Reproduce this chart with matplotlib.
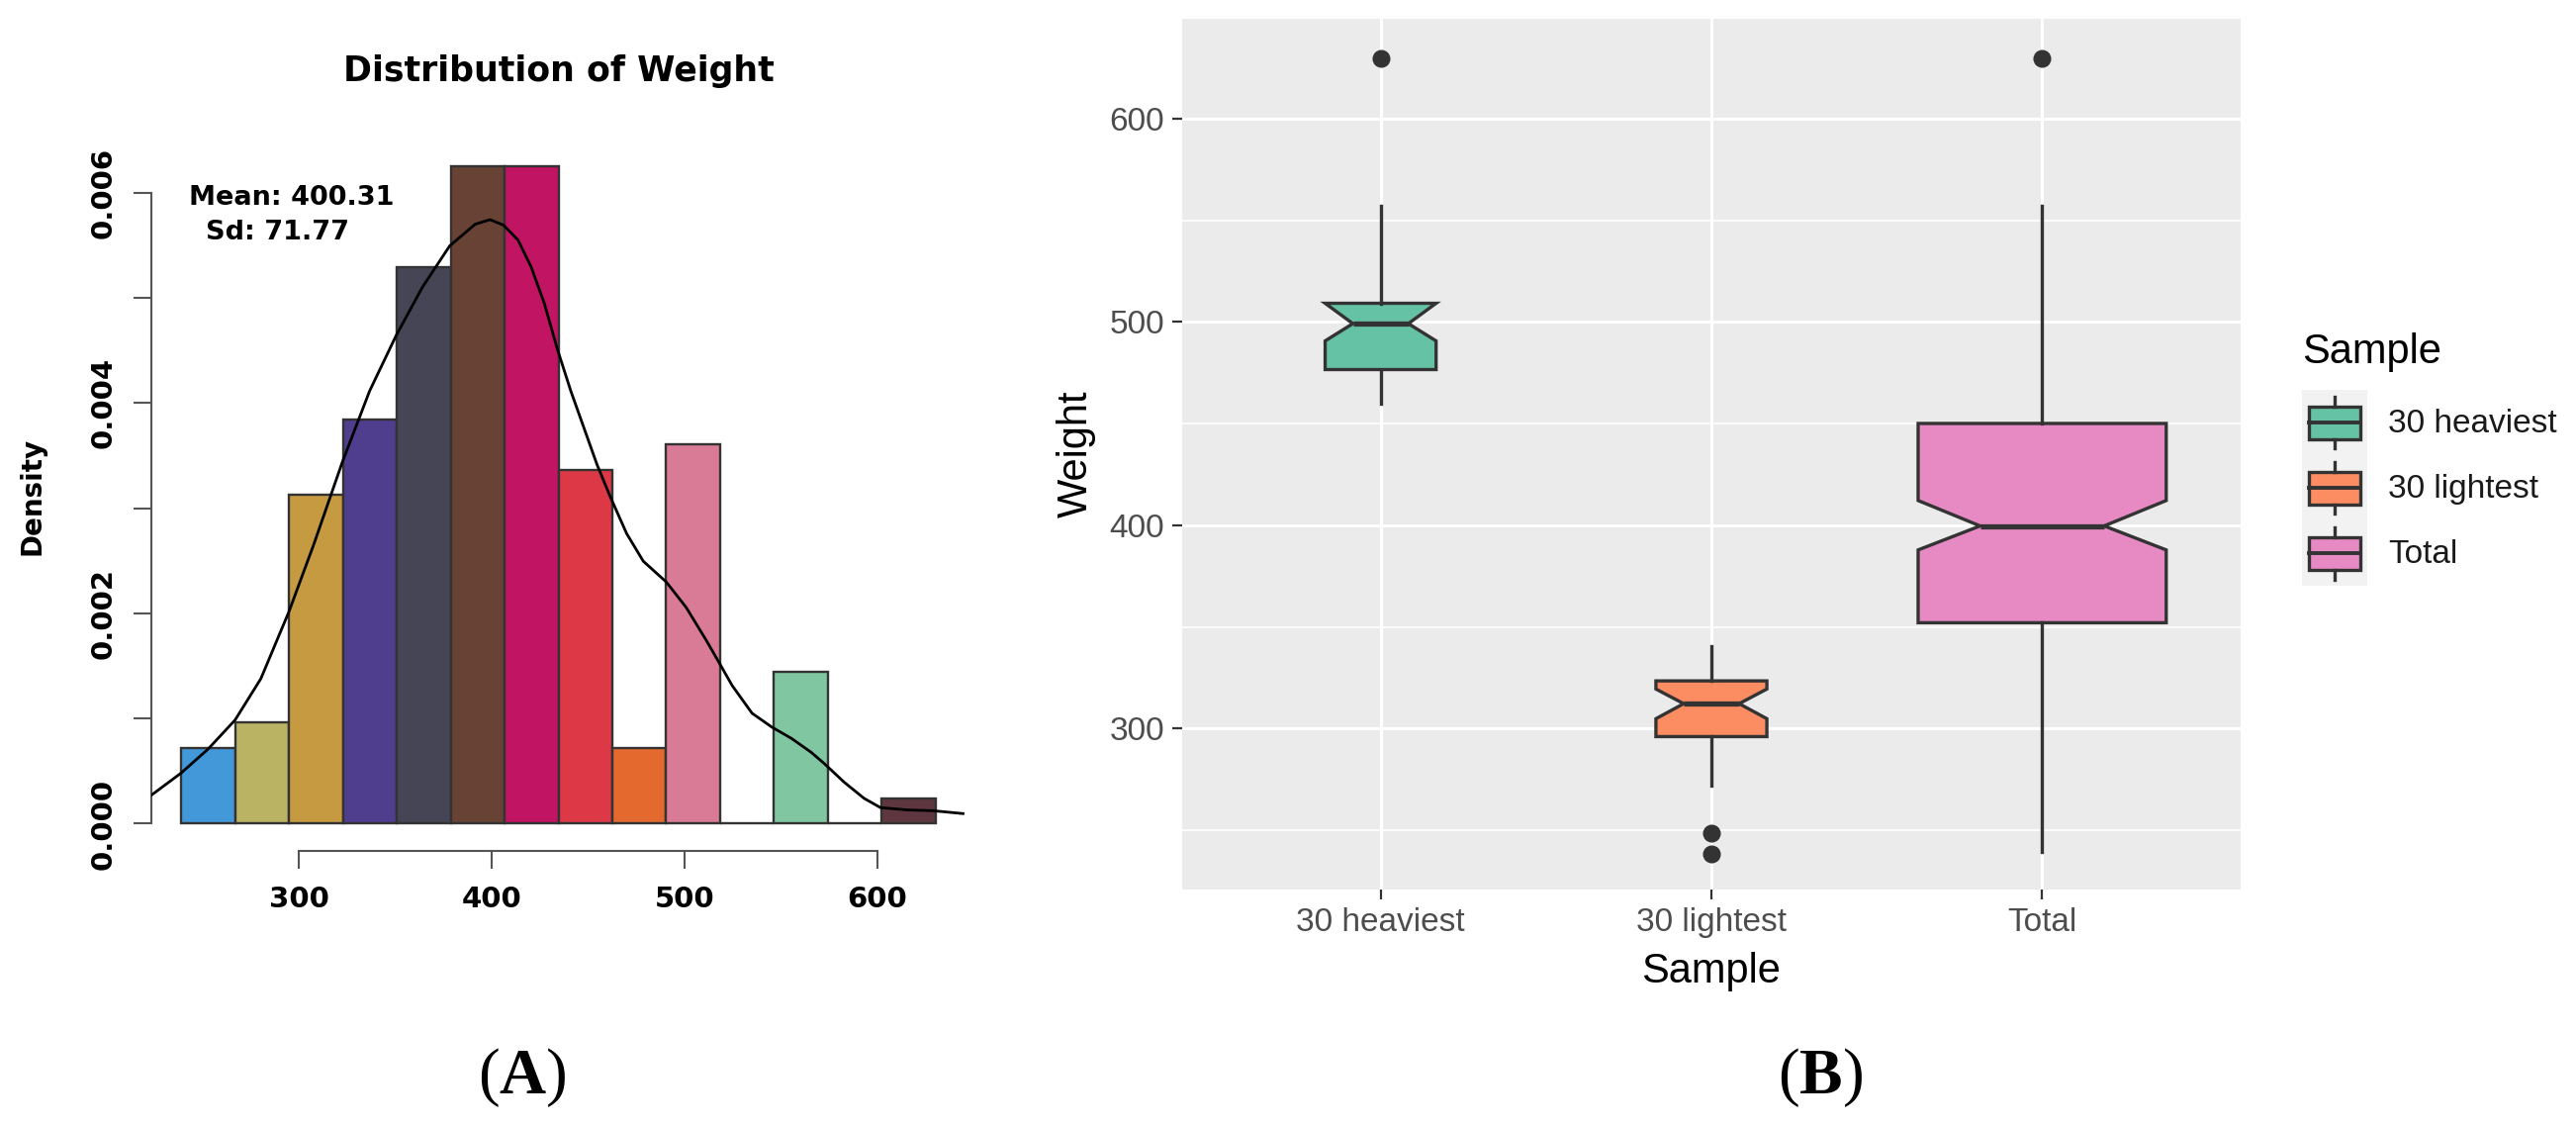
import matplotlib.pyplot as plt
import numpy as np
from matplotlib.legend_handler import HandlerBase
from matplotlib.patches import Patch, Rectangle
from matplotlib.lines import Line2D

plt.rcParams['font.family'] = ['DejaVu Sans']
plt.rcParams['mathtext.fontset'] = 'custom'
plt.rcParams['mathtext.rm'] = 'Liberation Serif'
plt.rcParams['mathtext.bf'] = 'Liberation Serif:bold'

# ---- panel A data: histogram of weight ----
bin_edges = [239.0, 266.93, 294.86, 322.79, 350.72, 378.65, 406.58, 434.51,
             462.44, 490.37, 518.3, 546.23, 574.16, 602.09, 630.02]
bin_counts = [3, 4, 13, 16, 22, 26, 26, 14, 3, 15, 0, 6, 0, 1]
bar_colors = ['#4398DA', '#BAB364', '#C59A40', '#4F3D8D', '#454556', '#684234',
              '#C11462', '#DD3845', '#E3692F', '#D97A96', '#FFFFFF', '#80C7A1',
              '#FFFFFF', '#5E3640']

# density curve
kde_x = [223.4, 238.8, 252.8, 266.8, 280.2, 288.7, 294.7, 307.5, 322.4, 336.6,
         350.3, 363.9, 378.1, 391.3, 399.0, 406.0, 413.5, 420.3, 427.2, 434.0,
         440.9, 447.7, 454.5, 461.4, 469.9, 478.5, 490.4, 500.7, 510.9, 517.8,
         524.6, 534.9, 545.1, 555.4, 565.6, 572.5, 582.7, 593.0, 601.5, 615.2,
         628.9, 644.3]
kde_y = [0.271, 0.481, 0.709, 0.985, 1.379, 1.751, 2.013, 2.648, 3.435, 4.114,
         4.639, 5.098, 5.492, 5.698, 5.742, 5.690, 5.549, 5.295, 4.945, 4.508,
         4.114, 3.764, 3.414, 3.107, 2.757, 2.495, 2.298, 2.057, 1.751, 1.532,
         1.313, 1.050, 0.919, 0.810, 0.678, 0.569, 0.394, 0.241, 0.153, 0.131,
         0.123, 0.096]
mean_txt = 'Mean: 400.31'
sd_txt = 'Sd: 71.77'

# ---- panel B data: notched boxplots ----
samples = ['30 heaviest', '30 lightest', 'Total']
box_q1 = [476.6, 296.1, 352.1]
box_med = [499.2, 312.3, 399.7]
box_q3 = [509.2, 323.5, 450.1]
whisk_lo = [459.9, 272.0, 239.2]
whisk_hi = [557.0, 340.6, 557.0]
notch_lo = [490.7, 304.9, 387.9]
notch_hi = [509.2, 319.5, 412.2]
outliers = [[629.6], [248.5, 238.5], [629.6]]
box_n = [30, 30, 150]
box_colors = ['#66C2A5', '#FC8D62', '#E78AC3']

W, H = 2604, 1138
fig = plt.figure(figsize=(W / 100, H / 100), dpi=100)


def fx(px):
    return px / W


def fy(py):
    return 1 - py / H


# ================= panel A =================
axA = fig.add_axes([fx(153), fy(860), fx(976) - fx(153), fy(140) - fy(860)])
edges = np.array(bin_edges)
counts = np.array(bin_counts)
dens = counts / (counts.sum() * np.diff(edges))
axA.bar(edges[:-1], dens, width=np.diff(edges), align='edge', color=bar_colors,
        edgecolor='#333333', linewidth=1.7, zorder=2)
axA.plot(kde_x, np.array(kde_y) * 1e-3, color='black', lw=2.0, zorder=3,
         solid_joinstyle='round')
axA.set_xlim(223.4, 645.6)
axA.set_ylim(-0.000259, 0.006513)
for s in ['top', 'right']:
    axA.spines[s].set_visible(False)
for s in ['left', 'bottom']:
    axA.spines[s].set_color('#555555')
    axA.spines[s].set_linewidth(1.5)
axA.spines['left'].set_bounds(0, 0.006)
axA.spines['bottom'].set_bounds(300, 600)
yt = [0, 0.001, 0.002, 0.003, 0.004, 0.005, 0.006]
axA.set_yticks(yt)
axA.set_yticklabels(['0.000', '', '0.002', '', '0.004', '', '0.006'])
axA.set_xticks([300, 400, 500, 600])
axA.set_xticklabels(['300', '400', '500', '600'])
axA.tick_params(axis='both', length=13, width=1.5, color='#555555',
                labelsize=21, pad=12)
axA.tick_params(axis='y', labelrotation=90)
for lab in axA.get_yticklabels():
    lab.set_va('center')
    lab.set_fontweight('bold')
for lab in axA.get_xticklabels():
    lab.set_fontweight('bold')
axA.text(295.9, 0.00595, mean_txt, ha='center', va='center',
         fontsize=19.5, fontweight='bold')
axA.text(288.7, 0.00562, sd_txt, ha='center', va='center',
         fontsize=19.5, fontweight='bold')
fig.text(fx(564.5), fy(72), 'Distribution of Weight', ha='center', va='center',
         fontsize=25, fontweight='bold')
fig.text(fx(32.5), fy(501), 'Density', rotation=90, ha='center', va='center',
         fontsize=20, fontweight='bold')

# ================= panel B =================
sans = ['Liberation Sans', 'DejaVu Sans']
axB = fig.add_axes([fx(1195), fy(899), fx(2265) - fx(1195), fy(19) - fy(899)])
axB.set_facecolor('#EBEBEB')
for s in axB.spines.values():
    s.set_visible(False)
positions = np.arange(1, len(samples) + 1)
stats = []
for i, name in enumerate(samples):
    stats.append(dict(label=name, med=box_med[i], q1=box_q1[i], q3=box_q3[i],
                      whislo=whisk_lo[i], whishi=whisk_hi[i], fliers=outliers[i],
                      cilo=notch_lo[i], cihi=notch_hi[i]))
widths = [0.75 * np.sqrt(n / max(box_n)) for n in box_n]
edge = '#333333'
bp = axB.bxp(stats, positions=positions, widths=widths, shownotches=True,
             patch_artist=True, showcaps=False,
             boxprops=dict(edgecolor=edge, linewidth=2.4),
             medianprops=dict(color=edge, linewidth=3.8),
             whiskerprops=dict(color=edge, linewidth=2.4),
             flierprops=dict(marker='o', markerfacecolor=edge, markeredgecolor=edge,
                             markersize=12),
             zorder=3)
for patch, c in zip(bp['boxes'], box_colors):
    patch.set_facecolor(c)
axB.set_xlim(0.4, 3.6)
axB.set_ylim(220.9, 649.1)
axB.set_yticks([300, 400, 500, 600])
axB.set_yticks([250, 350, 450, 550], minor=True)
axB.set_xticks(positions)
axB.set_xticklabels(samples)
axB.grid(True, which='major', color='white', linewidth=2.2, zorder=0)
axB.grid(True, which='minor', axis='y', color='white', linewidth=1.2, zorder=0)
axB.set_axisbelow(True)
axB.tick_params(axis='both', which='major', length=7, width=1.6, color='#333333',
                labelsize=24, labelcolor='#4D4D4D', pad=6)
axB.tick_params(axis='both', which='minor', length=0)
for lab in axB.get_xticklabels() + axB.get_yticklabels():
    lab.set_family(sans)
fig.text(fx(1730), fy(993), 'Sample', ha='center', va='baseline', fontsize=30,
         family=sans, color='black')
fig.text(fx(1099), fy(459), 'Weight', rotation=90, rotation_mode='anchor',
         ha='center', va='baseline', fontsize=30, family=sans, color='black')


class BoxKey(HandlerBase):
    def create_artists(self, legend, orig_handle, xdescent, ydescent, width,
                       height, fontsize, trans):
        x0, y0 = -xdescent, -ydescent
        bg = Rectangle((x0, y0), width, height, facecolor='#F2F2F2',
                       edgecolor='none', transform=trans)
        box = Rectangle((x0 + 0.1 * width, y0 + 0.25 * height), 0.8 * width,
                        0.5 * height, facecolor=orig_handle.get_facecolor(),
                        edgecolor=edge, linewidth=2.4, transform=trans)
        cx = x0 + width / 2
        med = Line2D([x0 + 0.1 * width, x0 + 0.9 * width],
                     [y0 + 0.5 * height] * 2, color=edge, lw=2.8, transform=trans)
        w1 = Line2D([cx, cx], [y0 + 0.1 * height, y0 + 0.25 * height],
                    color=edge, lw=2.4, transform=trans)
        w2 = Line2D([cx, cx], [y0 + 0.75 * height, y0 + 0.9 * height],
                    color=edge, lw=2.4, transform=trans)
        return [bg, box, med, w1, w2]


handles = [Patch(facecolor=c) for c in box_colors]
leg = fig.legend(handles, samples, handler_map={Patch: BoxKey()},
                 loc='upper left', bbox_to_anchor=(fx(2327), fy(336)),
                 frameon=False, borderpad=0, borderaxespad=0,
                 handlelength=1.98, handleheight=2.67, handletextpad=0.63,
                 labelspacing=0, title='Sample', alignment='left',
                 prop=dict(family=sans, size=24),
                 title_fontproperties=dict(family=sans, size=30))
leg._legend_box.sep = 13  # gap between title and keys, in points
for t in leg.get_texts():
    t.set_color('#1A1A1A')

# panel letters
fig.text(fx(528), fy(1089), r'($\mathbf{A}$)', ha='center', va='center',
         fontsize=47, family='Liberation Serif')
fig.text(fx(1840), fy(1089), r'($\mathbf{B}$)', ha='center', va='center',
         fontsize=47, family='Liberation Serif')

fig.savefig('out.png', dpi=100)
